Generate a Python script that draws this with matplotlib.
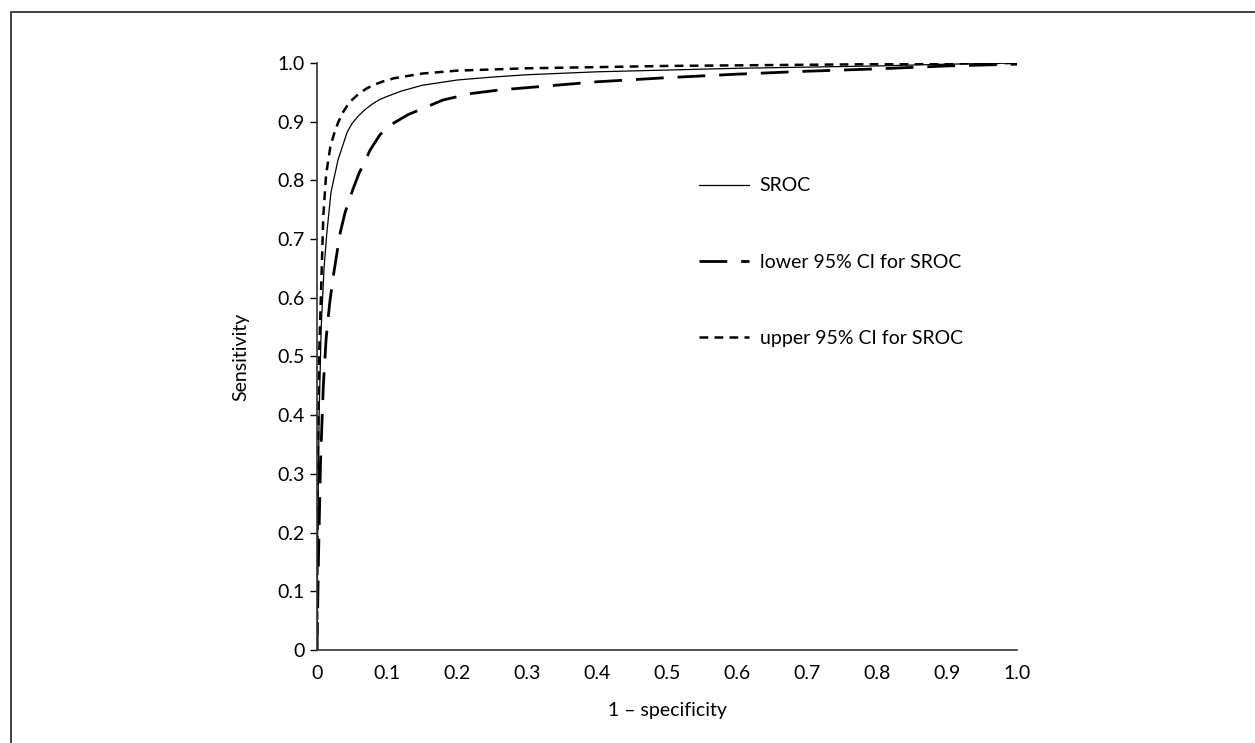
import numpy as np
import matplotlib
matplotlib.use('Agg')
import matplotlib.pyplot as plt
from matplotlib.patches import Rectangle

plt.rcParams['font.family'] = ['Lato', 'DejaVu Sans']

# SROC curve and its 95% CI
sroc_x = [0, 0.001, 0.003, 0.006, 0.010, 0.014, 0.020, 0.030, 0.043, 0.050,
          0.060, 0.070, 0.080, 0.090, 0.100, 0.120, 0.150, 0.200, 0.250,
          0.300, 0.400, 0.500, 0.600, 0.700, 0.800, 0.900, 1.0]
sroc_y = [0, 0.20, 0.40, 0.55, 0.65, 0.71, 0.78, 0.835, 0.882, 0.897,
          0.911, 0.922, 0.931, 0.938, 0.943, 0.952, 0.962, 0.971, 0.976,
          0.980, 0.985, 0.988, 0.991, 0.993, 0.995, 0.998, 1.0]

upper_x = [0, 0.001, 0.003, 0.006, 0.009, 0.013, 0.019, 0.025, 0.030, 0.036,
           0.043, 0.050, 0.060, 0.070, 0.080, 0.095, 0.110, 0.130, 0.150,
           0.200, 0.300, 0.500, 0.700, 1.0]
upper_y = [0, 0.30, 0.50, 0.62, 0.74, 0.81, 0.857, 0.882, 0.898, 0.914,
           0.927, 0.937, 0.948, 0.956, 0.962, 0.969, 0.974, 0.978, 0.982,
           0.987, 0.991, 0.995, 0.997, 1.0]

lower_x = [0, 0.002, 0.005, 0.009, 0.013, 0.018, 0.023, 0.033, 0.040, 0.051,
           0.060, 0.076, 0.090, 0.110, 0.130, 0.150, 0.180, 0.220, 0.260,
           0.300, 0.400, 0.500, 0.600, 0.700, 0.800, 0.900, 1.0]
lower_y = [0, 0.15, 0.32, 0.45, 0.53, 0.59, 0.635, 0.71, 0.745, 0.784,
           0.812, 0.852, 0.878, 0.898, 0.912, 0.922, 0.937, 0.948, 0.954,
           0.958, 0.968, 0.975, 0.981, 0.986, 0.990, 0.995, 0.998]

ticks = np.round(np.arange(0, 1.01, 0.1), 1)
tick_labels = ['0'] + ['%.1f' % t for t in ticks[1:]]

fig = plt.figure(figsize=(12.55, 7.43), dpi=100)
ax = fig.add_axes([0.2526, 0.1252, 0.5578, 0.790])

ax.plot(sroc_x, sroc_y, color='black', lw=0.9, label='SROC')
ax.plot(lower_x, lower_y, color='black', lw=2.0, dashes=(10, 5),
        label='lower 95% CI for SROC')
ax.plot(upper_x, upper_y, color='black', lw=1.8, dashes=(3.5, 2.5),
        label='upper 95% CI for SROC')

ax.set_xlim(0, 1.0)
ax.set_ylim(0, 1.0)
ax.set_xticks(ticks)
ax.set_xticklabels(tick_labels)
ax.set_yticks(ticks)
ax.set_yticklabels(tick_labels)
ax.tick_params(axis='y', direction='out', length=5, width=1, pad=4,
               labelsize=14)
ax.tick_params(axis='x', direction='out', length=0, pad=11, labelsize=14)

for s in ['top', 'right']:
    ax.spines[s].set_visible(False)
for s in ['left', 'bottom']:
    ax.spines[s].set_linewidth(1.2)
    ax.spines[s].set_color('#333333')

ax.set_xlabel('1 \u2013 specificity', fontsize=14, labelpad=14)
ax.set_ylabel('Sensitivity', fontsize=14, labelpad=20)

ax.legend(loc='upper left', bbox_to_anchor=(0.52, 0.835), frameon=False,
          fontsize=14, handlelength=2.6, handletextpad=0.55,
          labelspacing=3.05)

# outer frame of the figure
fig.add_artist(Rectangle((11 / 1255, -0.1), 1.2, 1.1 - 12 / 743,
                         transform=fig.transFigure, fill=False,
                         edgecolor='#333333', lw=1.3))

fig.savefig('out.png', dpi=100)
